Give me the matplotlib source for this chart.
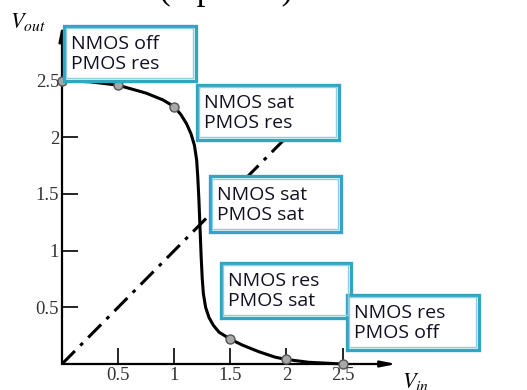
import matplotlib.pyplot as plt
from matplotlib.patches import Rectangle

plt.rcParams["mathtext.fontset"] = "stix"

# ── data ─────────────────────────────────────────────────────────────────────
vin = [0.0, 0.25, 0.5, 0.75, 0.9, 1.0, 1.06, 1.11, 1.15, 1.18, 1.2, 1.21,
       1.22, 1.23, 1.24, 1.25, 1.26, 1.28, 1.31, 1.35, 1.4, 1.45, 1.5,
       1.6, 1.75, 1.9, 2.0, 2.2, 2.5]
vout = [2.5, 2.49, 2.46, 2.39, 2.33, 2.27, 2.2, 2.12, 2.03, 1.93, 1.8, 1.65,
        1.45, 1.2, 0.95, 0.75, 0.62, 0.5, 0.41, 0.34, 0.28, 0.25, 0.22,
        0.17, 0.11, 0.06, 0.04, 0.015, 0.0]
dot_x = [0.0, 0.5, 1.0, 1.5, 2.0, 2.5]
dot_y = [2.5, 2.46, 2.27, 0.22, 0.04, 0.0]
diag = [0.0, 2.5]
ticks = [0.5, 1, 1.5, 2, 2.5]
tick_labels = ["0.5", "1", "1.5", "2", "2.5"]

regions = [
    ("NMOS off\nPMOS res", 62, 24, 197, 82),
    ("NMOS sat\nPMOS res", 195, 83, 340, 141),
    ("NMOS sat\nPMOS sat", 208, 175, 342, 233),
    ("NMOS res\nPMOS sat", 219, 261, 352, 319),
    ("NMOS res\nPMOS off", 345, 293, 480, 351),
]

W, H = 527, 390
fig = plt.figure(figsize=(W / 100, H / 100), dpi=100)
ax = fig.add_axes([62 / W, 26 / H, 340 / W, 340 / H])
ax.set_xlim(0, 3.03)
ax.set_ylim(0, 3.0)

serif = "Liberation Serif"

# axes with arrows
for s in ax.spines.values():
    s.set_visible(False)
ax.annotate("", xy=(2.98, 0), xytext=(0, 0),
            arrowprops=dict(arrowstyle="-|>,head_length=0.9,head_width=0.18",
                            color="black", lw=1.6, shrinkA=0, shrinkB=0),
            annotation_clip=False)
ax.annotate("", xy=(0, 2.99), xytext=(0, 0),
            arrowprops=dict(arrowstyle="-|>,head_length=0.9,head_width=0.18",
                            color="black", lw=1.6, shrinkA=0, shrinkB=0),
            annotation_clip=False)

ax.set_xticks(ticks)
ax.set_yticks(ticks)
ax.set_xticklabels(tick_labels, fontfamily=serif, fontsize=13.5, color="#333333")
ax.set_yticklabels(tick_labels, fontfamily=serif, fontsize=13.5, color="#333333")
ax.tick_params(direction="in", length=11.5, width=1.2, pad=2)

# curves
ax.plot(diag, diag, color="black", lw=2.2,
        linestyle=(0, (6, 2.5, 1.2, 2.5)), clip_on=False)
ax.plot(vin, vout, color="black", lw=2.2, clip_on=False, zorder=3)
ax.plot(dot_x, dot_y, "o", ms=6.5, mfc="#a8a8a8", mec="#555555", mew=1,
        clip_on=False, zorder=4)

# axis labels
fig.text(10 / W, 1 - 22 / H, "$V_{out}$", fontsize=16,
         va="center", ha="left")
fig.text(402 / W, 1 - 382 / H, "$V_{in}$", fontsize=16,
         va="center", ha="left")

# clipped heading at top
fig.text(293 / W, 1 + 1 / H, "devices (3 points)", fontsize=25,
         fontfamily=serif, ha="right", va="baseline")

# region boxes
def px_rect(x0, y0, x1, y1, **kw):
    return Rectangle((x0 / W, 1 - y1 / H), (x1 - x0) / W, (y1 - y0) / H,
                     transform=fig.transFigure, **kw)

for label, x0, y0, x1, y1 in regions:
    fig.patches.append(px_rect(x0 + 1.5, y0 + 1.5, x1 - 1.5, y1 - 1.5,
                               facecolor="white", edgecolor="#35a3c3",
                               lw=2.4, zorder=5))
    fig.patches.append(px_rect(x0 + 4, y0 + 4, x1 - 4, y1 - 4,
                               facecolor="none", edgecolor="#8fcde0",
                               lw=1.0, zorder=6))
    fig.text((x0 + 9) / W, 1 - (y0 + (y1 - y0) / 2 + 1) / H, label,
             fontsize=14, fontfamily="Open Sans", color="#111122",
             va="center", ha="left", linespacing=1.15, zorder=7)

fig.savefig("out.png", dpi=100)
